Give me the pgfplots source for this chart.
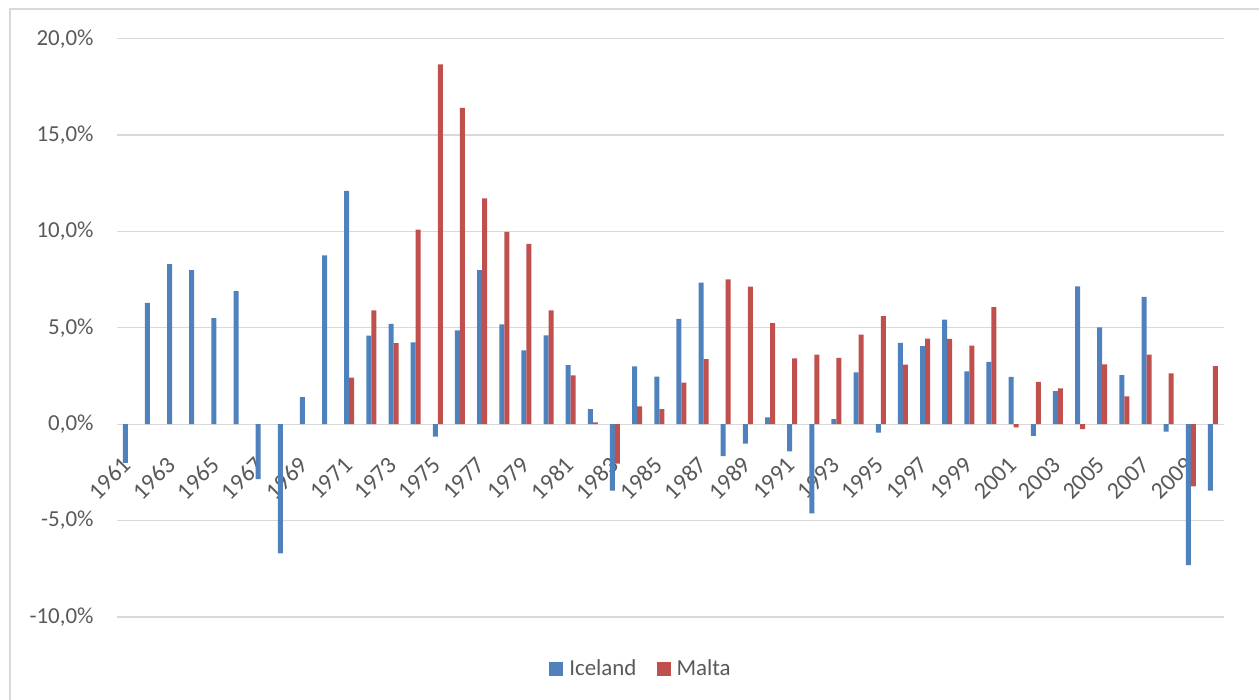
\documentclass[border=0pt]{standalone}
\usepackage{fontspec}
\setmainfont{Carlito}
\usepackage{pgfplots}
\pgfplotsset{compat=1.18}

\definecolor{icelandblue}{HTML}{4F81BD}
\definecolor{maltared}{HTML}{C0504D}
\definecolor{gridgray}{HTML}{D9D9D9}
\definecolor{textgray}{HTML}{595959}

\begin{document}
\begin{tikzpicture}[x=1bp,y=1bp]
\useasboundingbox (0,0) rectangle (1259,700);
% chart frame
\draw[gridgray, line width=1.3bp] (10,691) rectangle (1280,-20);
\begin{axis}[
  at={(116.7bp,83bp)}, anchor=south west,
  scale only axis,
  width=1107.3bp, height=578.3bp,
  xmin=-0.5, xmax=49.5,
  ymin=-10, ymax=20,
  ybar=0bp, bar width=5bp,
  axis line style={draw=none},
  major tick length=0pt,
  ymajorgrids,
  grid style={gridgray, line width=1.3bp},
  ytick={-10,-5,0,5,10,15,20},
  yticklabels={{-10,0\%},{-5,0\%},{0,0\%},{5,0\%},{10,0\%},{15,0\%},{20,0\%}},
  xtick={0,2,...,48},
  xticklabels={1961,1963,1965,1967,1969,1971,1973,1975,1977,1979,1981,1983,1985,1987,1989,1991,1993,1995,1997,1999,2001,2003,2005,2007,2009},
  tick label style={font=\fontsize{23}{27}\selectfont, text=textgray},
  yticklabel style={anchor=east, inner sep=0pt, xshift=-23bp},
  xticklabel style={font=\fontsize{24}{28}\selectfont, inner sep=0pt, xshift=-1bp, yshift=156bp, rotate=45, anchor=east},
  legend columns=2,
  legend style={at={(0.4726,-0.0894)}, anchor=center, draw=none, fill=none,
    font=\fontsize{23}{27}\selectfont, text=textgray,
    nodes={inner sep=0pt},
    column sep=6bp,
    /tikz/every even column/.append style={column sep=20bp}},
  legend image code/.code={\fill[#1] (0bp,-7bp) rectangle (14bp,7bp);},
]
% Iceland
\addplot[fill=icelandblue, draw=none] coordinates {
(0,-2.0) (1,6.3) (2,8.3) (3,8.0) (4,5.5) (5,6.9) (6,-2.85) (7,-6.7) (8,1.4) (9,8.76)
(10,12.1) (11,4.6) (12,5.2) (13,4.25) (14,-0.64) (15,4.87) (16,8.0) (17,5.18) (18,3.83) (19,4.61)
(20,3.06) (21,0.78) (22,-3.45) (23,3.0) (24,2.47) (25,5.47) (26,7.35) (27,-1.65) (28,-1.0) (29,0.35)
(30,-1.41) (31,-4.62) (32,0.26) (33,2.69) (34,-0.43) (35,4.22) (36,4.05) (37,5.43) (38,2.74) (39,3.23)
(40,2.45) (41,-0.61) (42,1.72) (43,7.15) (44,5.02) (45,2.55) (46,6.61) (47,-0.38) (48,-7.31) (49,-3.45)
};
\addlegendentry{Iceland}
% Malta
\addplot[fill=maltared, draw=none] coordinates {
(10,2.42) (11,5.91) (12,4.21) (13,10.09) (14,18.67) (15,16.41) (16,11.71) (17,9.98) (18,9.36) (19,5.91)
(20,2.54) (21,0.09) (22,-2.04) (23,0.92) (24,0.78) (25,2.16) (26,3.38) (27,7.52) (28,7.14) (29,5.24)
(30,3.42) (31,3.61) (32,3.44) (33,4.65) (34,5.61) (35,3.09) (36,4.44) (37,4.43) (38,4.08) (39,6.08)
(40,-0.16) (41,2.20) (42,1.86) (43,-0.26) (44,3.11) (45,1.44) (46,3.61) (47,2.64) (48,-3.23) (49,3.02)
};
\addlegendentry{Malta}
\end{axis}
\end{tikzpicture}
\end{document}
